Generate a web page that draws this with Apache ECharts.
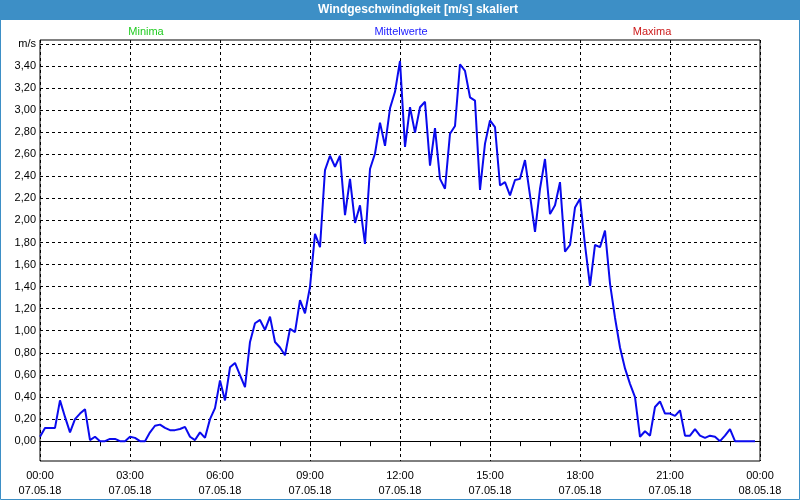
<!DOCTYPE html>
<html><head><meta charset="utf-8">
<script src="https://cdn.jsdelivr.net/npm/echarts@6/dist/echarts.min.js"></script>
<style>html,body{margin:0;padding:0;background:#fff}#c{width:800px;height:500px}</style>
</head><body><div id="c"></div>
<script>
const times = [
"00:00","00:10","00:20","00:30","00:40","00:50","01:00","01:10","01:20","01:30","01:40","01:50",
"02:00","02:10","02:20","02:30","02:40","02:50","03:00","03:10","03:20","03:30","03:40","03:50",
"04:00","04:10","04:20","04:30","04:40","04:50","05:00","05:10","05:20","05:30","05:40","05:50",
"06:00","06:10","06:20","06:30","06:40","06:50","07:00","07:10","07:20","07:30","07:40","07:50",
"08:00","08:10","08:20","08:30","08:40","08:50","09:00","09:10","09:20","09:30","09:40","09:50",
"10:00","10:10","10:20","10:30","10:40","10:50","11:00","11:10","11:20","11:30","11:40","11:50",
"12:00","12:10","12:20","12:30","12:40","12:50","13:00","13:10","13:20","13:30","13:40","13:50",
"14:00","14:10","14:20","14:30","14:40","14:50","15:00","15:10","15:20","15:30","15:40","15:50",
"16:00","16:10","16:20","16:30","16:40","16:50","17:00","17:10","17:20","17:30","17:40","17:50",
"18:00","18:10","18:20","18:30","18:40","18:50","19:00","19:10","19:20","19:30","19:40","19:50",
"20:00","20:10","20:20","20:30","20:40","20:50","21:00","21:10","21:20","21:30","21:40","21:50",
"22:00","22:10","22:20","22:30","22:40","22:50","23:00","23:10","23:20","23:30","23:40","23:50",
"24:00"];
const mittelwerte = [
0.04,0.12,0.12,0.12,0.37,0.22,0.08,0.20,0.25,0.29,
0.01,0.04,0.00,0.00,0.02,0.02,0.00,0.00,0.04,0.03,
0.00,0.00,0.08,0.14,0.15,0.12,0.10,0.10,0.11,0.13,
0.04,0.01,0.08,0.03,0.20,0.30,0.55,0.37,0.67,0.71,
0.60,0.49,0.90,1.07,1.10,1.01,1.13,0.90,0.85,0.78,
1.02,0.99,1.28,1.16,1.40,1.88,1.76,2.46,2.59,2.49,
2.59,2.05,2.38,1.98,2.14,1.79,2.47,2.61,2.89,2.68,
3.02,3.17,3.45,2.67,3.03,2.80,3.03,3.08,2.50,2.84,
2.38,2.29,2.79,2.86,3.42,3.36,3.12,3.09,2.28,2.70,
2.91,2.85,2.32,2.35,2.23,2.37,2.38,2.55,2.23,1.90,
2.29,2.56,2.06,2.14,2.35,1.72,1.78,2.12,2.20,1.78,
1.41,1.78,1.76,1.91,1.43,1.12,0.85,0.66,0.52,0.40,
0.04,0.09,0.05,0.31,0.36,0.25,0.25,0.23,0.28,0.05,
0.05,0.11,0.05,0.03,0.05,0.04,0.00,0.05,0.11,0.00,
0.00,0.00,0.00,0.00];
const xTickLabels = ["00:00\n07.05.18","03:00\n07.05.18","06:00\n07.05.18","09:00\n07.05.18",
"12:00\n07.05.18","15:00\n07.05.18","18:00\n07.05.18","21:00\n07.05.18","00:00\n08.05.18"];
const yUnit = "m/s";
const legendTexts = ["Minima","Mittelwerte","Maxima"];
const legendColors = ["#22cc22","#1a1aff","#cc1a1a"];
const titleText = "Windgeschwindigkeit [m/s] skaliert";

const FONT = "Liberation Sans";
const chart = echarts.init(document.getElementById('c'), null, {renderer:'canvas'});
const option = {
  backgroundColor:'#ffffff',
  animation:false,
  graphic:[
    {type:'rect', shape:{x:0,y:0,width:800,height:20}, style:{fill:'#3d8fc6'}, z:10},
    {type:'rect', shape:{x:0.5,y:0.5,width:799,height:499}, style:{fill:null, stroke:'#3d8fc6', lineWidth:1}, z:10},
    {type:'text', x:418, y:10, style:{text:titleText, fill:'#ffffff', font:'bold 12px "'+FONT+'"', align:'center', verticalAlign:'middle'}, z:11},
    {type:'text', x:146, y:32, style:{text:legendTexts[0], fill:legendColors[0], font:'11px "'+FONT+'"', align:'center', verticalAlign:'middle'}},
    {type:'text', x:401, y:32, style:{text:legendTexts[1], fill:legendColors[1], font:'11px "'+FONT+'"', align:'center', verticalAlign:'middle'}},
    {type:'text', x:652, y:32, style:{text:legendTexts[2], fill:legendColors[2], font:'11px "'+FONT+'"', align:'center', verticalAlign:'middle'}}
  ],
  grid:[
    {left:40, right:40, top:40, bottom:39, show:true, borderColor:'#000', borderWidth:1, backgroundColor:'transparent'},
    {left:40, right:40, top:44, height:397, show:false}
  ],
  xAxis:[
    {gridIndex:0, type:'category', data:times, boundaryGap:false,
     axisLine:{lineStyle:{color:'#000', width:1}},
     axisTick:{show:true, interval:5, length:5, inside:false, lineStyle:{color:'#000'}},
     axisLabel:{interval:17, margin:7, color:'#000', fontFamily:FONT, fontSize:11, lineHeight:15,
       formatter:(v,i)=>xTickLabels[Math.round(i/18)]},
     splitLine:{show:true, interval:17, lineStyle:{color:'#000', type:[3,3], width:1}}
    },
    {gridIndex:1, type:'value', min:0, max:1, show:false}
  ],
  yAxis:[
    {gridIndex:0, type:'value', min:-0.18, max:3.64, show:false, splitLine:{show:false}},
    {gridIndex:1, type:'value', min:0, max:3.6, interval:0.2,
     axisLine:{show:false}, axisTick:{show:false},
     axisLabel:{margin:4, color:'#000', fontFamily:FONT, fontSize:11,
       formatter:v=> Math.abs(v-3.6)<1e-6 ? yUnit : v.toFixed(2).replace('.',',')},
     splitLine:{show:true, lineStyle:{color:'#000', type:[3,3], width:1}}
    }
  ],
  series:[
    {type:'line', xAxisIndex:0, yAxisIndex:0, data:mittelwerte, showSymbol:false, symbol:'none',
     lineStyle:{color:'#0a0aee', width:2}, z:5},
    {type:'line', xAxisIndex:1, yAxisIndex:1, data:[], showSymbol:false}
  ]
};
chart.setOption(option);
</script>
</body></html>
